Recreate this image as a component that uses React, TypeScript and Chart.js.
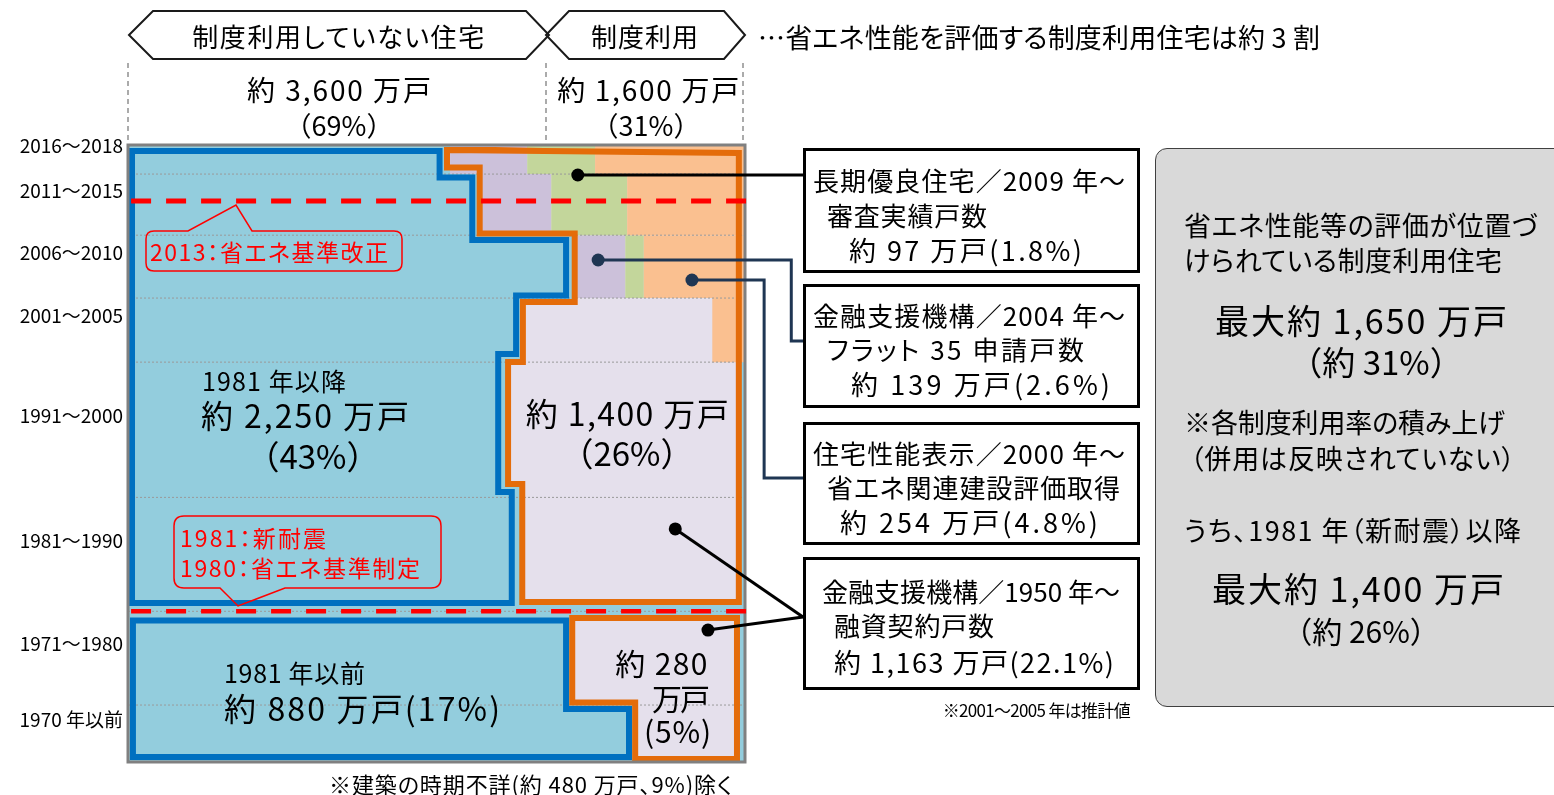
import React, { useEffect, useLayoutEffect, useRef } from 'react';
import { Chart, registerables } from 'chart.js';

Chart.register(...registerables);

// ---------------- data ----------------
// construction periods (rows, newest first)
const periods = ['2016～2018', '2011～2015', '2006～2010', '2001～2005', '1991～2000', '1981～1990', '1971～1980', '1970 年以前'];
// housing stock per period (万戸) = row height
const periodStock = [245, 515, 530, 540, 1140, 960, 790, 480];

// share (% of the period's stock) of each system, rows from newest
const longLifeShare = [12.5, 11.2, 7.8, 0]; // 長期優良住宅
const flat35Share = [11.0, 12.3, 3.0, 0]; // フラット35
const perfShare = [24.3, 19.1, 16.4, 5.3]; // 住宅性能表示

// outlines: [share %, cumulative stock 万戸]
type P = [number, number];
const notUsedAfter1981: P[] = [[0.65, 51], [50.5, 51], [50.5, 274], [55.8, 274], [55.8, 801], [71.0, 801], [71.0, 1268], [62.9, 1268], [62.9, 1761], [60.0, 1761], [60.0, 2924], [62.2, 2924], [62.2, 3860], [0.65, 3860]];
const usedAfter1981: P[] = [[51.7, 42], [99.0, 67], [99.0, 3852], [63.9, 3852], [63.9, 2857], [61.6, 2857], [61.6, 1829], [64.0, 1829], [64.0, 1323], [72.4, 1323], [72.4, 746], [57.0, 746], [57.0, 190], [51.7, 190]];
const notUsedBefore1981: P[] = [[0.8, 4007], [71.0, 4007], [71.0, 4753], [81.2, 4753], [81.2, 5158], [0.8, 5158]];
const usedBefore1981: P[] = [[72.0, 3986], [98.7, 3986], [98.7, 5175], [82.2, 5175], [82.2, 4699], [72.0, 4699]];

// 2013 省エネ基準改正 / 1980-81 新耐震・省エネ基準制定
const standardLines = [472, 3930];

// marker dots and their leader lines (to the callout boxes)
const markerPoints: P[] = [[72.9, 253], [76.2, 969], [91.4, 1138], [88.7, 3236], [94.0, 4088]];
const markerColors = ['#000000', '#1F3653', '#1F3653', '#000000', '#000000'];
const leaderLines: P[][] = [
  [[72.9, 253], [109.4, 253]],
  [[109.4, 1652], [107.5, 1652], [107.5, 969], [76.2, 969]],
  [[109.4, 2807], [103.1, 2807], [103.1, 1138], [91.4, 1138]],
  [[88.7, 3236], [109.4, 3978]],
  [[94.0, 4088], [109.4, 3978]],
];

const C = {
  notUsed: '#93CDDD',
  blue: '#0070C0',
  orange: '#E46C0A',
  lav: '#E5E0EC',
  long: '#CCC1DA',
  flat: '#C3D69B',
  perf: '#FAC090',
  frame: '#808080',
  red: '#FF0000',
};

const FONT = '"Noto Sans CJK JP", "Noto Sans", sans-serif';

const pts = (a: P[]) => a.map(([x, y]) => ({ x, y }));
const closed = (a: P[]) => pts([...a, a[0], a[1]]);

function Txt(props: { x: number; y: number; s: number; a?: 'left' | 'center' | 'right'; c?: string; w?: number; np?: boolean; children: any }) {
  const { x, y, s, a = 'left', c = '#000', w, np, children } = props;
  const r = useRef<HTMLDivElement>(null);
  useLayoutEffect(() => {
    const fit = () => {
      const el = r.current;
      if (!el || !w) return;
      el.style.letterSpacing = '0px';
      const cur = el.getBoundingClientRect().width;
      const n = Math.max(1, (el.textContent || '').length - 1);
      const ls = Math.max(-2, Math.min(6, (w - cur) / n));
      el.style.letterSpacing = `${ls}px`;
    };
    fit();
    const f: any = (document as any).fonts;
    if (f && f.ready) f.ready.then(fit);
  }, [w]);
  const tx = a === 'center' ? '-50%' : a === 'right' ? '-100%' : '0';
  return (
    <div
      ref={r}
      style={{
        position: 'absolute',
        left: x,
        top: y,
        transform: `translate(${tx}, -50%)`,
        fontSize: s,
        color: c,
        whiteSpace: 'pre',
        lineHeight: 1,
        fontFeatureSettings: np ? 'normal' : '"palt"',
      }}
    >
      {children}
    </div>
  );
}

function ChartCanvas() {
  const ref = useRef<HTMLCanvasElement>(null);
  useEffect(() => {
    const rowEdges = [0];
    periodStock.forEach((v) => rowEdges.push(rowEdges[rowEdges.length - 1] + v));
    const total = rowEdges[rowEdges.length - 1];
    const rowCenters = periodStock.map((v, i) => rowEdges[i] + v / 2);

    const datasets: any[] = [];
    const add = (ds: any, order: number) =>
      datasets.push({ pointRadius: 0, fill: false, borderWidth: 0, borderColor: 'rgba(0,0,0,0)', backgroundColor: 'rgba(0,0,0,0)', order, ...ds });

    const frame: P[] = [[0, 0], [100, 0], [100, total], [0, total]];
    add({ data: pts(frame), fill: 'shape', backgroundColor: C.notUsed }, 100);
    add({ data: pts(usedAfter1981), fill: 'shape', backgroundColor: C.lav }, 90);
    add({ data: pts(usedBefore1981), fill: 'shape', backgroundColor: C.lav }, 90);

    for (let i = 0; i < perfShare.length; i++) {
      let right = 100;
      const progs: [number, string][] = [[perfShare[i], C.perf], [flat35Share[i], C.flat], [longLifeShare[i], C.long]];
      for (const [w, col] of progs) {
        if (w > 0) {
          const l = right - w;
          add({ data: pts([[l, rowEdges[i]], [right, rowEdges[i]], [right, rowEdges[i + 1]], [l, rowEdges[i + 1]]]), fill: 'shape', backgroundColor: col }, 80);
          right = l;
        }
      }
    }

    rowEdges.slice(1, -1).forEach((y) =>
      add({ data: pts([[0, y], [100, y]]), borderWidth: 1, borderColor: '#9a9a9a', borderDash: [2, 2] }, 70)
    );

    add({ data: closed(notUsedAfter1981), borderWidth: 6, borderColor: C.blue, borderJoinStyle: 'miter' }, 60);
    add({ data: closed(notUsedBefore1981), borderWidth: 6, borderColor: C.blue, borderJoinStyle: 'miter' }, 60);
    add({ data: closed(usedAfter1981), borderWidth: 6, borderColor: C.orange, borderJoinStyle: 'miter' }, 55);
    add({ data: closed(usedBefore1981), borderWidth: 6, borderColor: C.orange, borderJoinStyle: 'miter' }, 55);

    add({ data: closed(frame), borderWidth: 3, borderColor: C.frame, borderJoinStyle: 'miter', clip: false }, 50);

    standardLines.forEach((y, i) =>
      add({ data: pts([[0.5, y], [101.1, y]]), borderWidth: i === 0 ? 5 : 4.5, borderColor: C.red, borderDash: [20, 15], borderCapStyle: 'butt', clip: false }, 40)
    );

    leaderLines.forEach((l, i) =>
      add({ data: pts(l), borderWidth: 3, borderColor: markerColors[i], borderJoinStyle: 'miter', clip: false }, 30)
    );

    add({ data: pts(markerPoints), showLine: false, pointRadius: 6.5, pointBackgroundColor: markerColors, pointBorderWidth: 0, clip: false }, 10);

    const chart = new Chart(ref.current as HTMLCanvasElement, {
      type: 'line',
      data: { datasets },
      options: {
        animation: false,
        responsive: false,
        devicePixelRatio: 1,
        events: [],
        layout: { padding: { left: 8, top: 145, right: 809, bottom: 33 } },
        plugins: { legend: { display: false }, tooltip: { enabled: false }, title: { display: false } },
        elements: { point: { radius: 0, hoverRadius: 0 }, line: { tension: 0 } },
        scales: {
          x: { type: 'linear', min: 0, max: 100, display: false },
          y: {
            type: 'linear',
            min: 0,
            max: total,
            reverse: true,
            position: 'left',
            grid: { display: false, drawTicks: false },
            border: { display: false },
            afterBuildTicks: (s: any) => {
              s.ticks = rowCenters.map((v) => ({ value: v }));
            },
            afterFit: (s: any) => {
              s.width = 120;
            },
            ticks: {
              autoSkip: false,
              padding: 5,
              labelOffset: -14,
              color: '#000',
              font: { family: FONT, size: 19 },
              callback: (_v: any, i: number) => periods[i],
            },
          },
        },
      } as any,
    });
    return () => chart.destroy();
  }, []);
  return <canvas ref={ref} width={1554} height={795} style={{ position: 'absolute', left: 0, top: 0 }} />;
}

export default function App() {
  const box = (l: number, t: number, r: number, b: number) => (
    <div
      style={{
        position: 'absolute',
        left: l,
        top: t,
        width: r - l,
        height: b - t,
        boxSizing: 'border-box',
        border: '3px solid #000',
        background: '#fff',
      }}
    />
  );
  return (
    <div
      style={{
        position: 'absolute',
        left: 0,
        top: 0,
        width: 1554,
        height: 795,
        overflow: 'hidden',
        background: '#fff',
        fontFamily: FONT,
        color: '#000',
      }}
    >
      <ChartCanvas />
      <svg width={1554} height={795} style={{ position: 'absolute', left: 0, top: 0 }}>
        <polygon points="129,35 153,11 526,11 549,35 526,59 153,59" fill="none" stroke="#1a1a1a" strokeWidth={2} />
        <polygon points="546,35 569,11 724,11 745,35 724,59 569,59" fill="none" stroke="#1a1a1a" strokeWidth={2} />
        {[128, 546, 743].map((x) => (
          <line key={x} x1={x} y1={63} x2={x} y2={145} stroke="#7f7f7f" strokeWidth={1.3} strokeDasharray="5 4" />
        ))}
        <path
          d="M154,231 H188 L236,205 L252,231 H394 Q402,231 402,239 V263 Q402,271 394,271 H154 Q146,271 146,263 V239 Q146,231 154,231 Z"
          fill="none"
          stroke="#FF0000"
          strokeWidth={1.5}
        />
        <path
          d="M184,516 H431 Q441,516 441,526 V578 Q441,588 431,588 H285 L238,606 L220,588 H184 Q174,588 174,578 V526 Q174,516 184,516 Z"
          fill="none"
          stroke="#FF0000"
          strokeWidth={1.5}
        />
      </svg>

      {/* header */}
      <Txt x={339} y={36} s={26} a="center" w={292}>制度利用していない住宅</Txt>
      <Txt x={645} y={36} s={26} a="center" w={107}>制度利用</Txt>
      <Txt x={758} y={36} s={27} w={562}>…省エネ性能を評価する制度利用住宅は約 3 割</Txt>
      <Txt x={340} y={89} s={28} a="center" w={184}>約 3,600 万戸</Txt>
      <Txt x={339} y={124} s={27} a="center" np>（69%）</Txt>
      <Txt x={649} y={89} s={28} a="center" w={182}>約 1,600 万戸</Txt>
      <Txt x={646} y={124} s={27} a="center" np>（31%）</Txt>

      {/* inside chart */}
      <Txt x={202} y={380} s={25} w={144}>1981 年以降</Txt>
      <Txt x={306} y={414} s={32} a="center" w={208}>約 2,250 万戸</Txt>
      <Txt x={313} y={455} s={33} a="center" np>（43%）</Txt>
      <Txt x={628} y={412} s={32} a="center" w={203}>約 1,400 万戸</Txt>
      <Txt x={627} y={452} s={33} a="center" np>（26%）</Txt>
      <Txt x={224} y={672} s={25} w={141}>1981 年以前</Txt>
      <Txt x={224} y={707} s={32} w={276}>約 880 万戸(17%)</Txt>
      <Txt x={662} y={662} s={30} a="center" w={92}>約 280</Txt>
      <Txt x={680} y={697} s={30} a="center" w={50}>万戸</Txt>
      <Txt x={678} y={730} s={30} a="center" w={67}>(5%)</Txt>

      <Txt x={150} y={251} s={23} c="#FF0000" w={238}>2013：省エネ基準改正</Txt>
      <Txt x={180} y={537} s={23} c="#FF0000" w={146}>1981：新耐震</Txt>
      <Txt x={180} y={567} s={23} c="#FF0000" w={240}>1980：省エネ基準制定</Txt>

      <Txt x={531} y={783} s={22} a="center" w={403}>※建築の時期不詳(約 480 万戸、9%)除く</Txt>

      {/* callout boxes */}
      {box(803, 148, 1140, 273)}
      {box(803, 284, 1140, 408)}
      {box(803, 422, 1140, 545)}
      {box(803, 557, 1140, 690)}
      <Txt x={813} y={180} s={26} w={312}>長期優良住宅／2009 年～</Txt>
      <Txt x={827} y={215} s={26} w={160}>審査実績戸数</Txt>
      <Txt x={849} y={249} s={27} w={233}>約 97 万戸(1.8%)</Txt>
      <Txt x={813} y={315} s={26} w={312}>金融支援機構／2004 年～</Txt>
      <Txt x={827} y={349} s={26} w={257}>フラット 35 申請戸数</Txt>
      <Txt x={851} y={383} s={27} w={259}>約 139 万戸(2.6%)</Txt>
      <Txt x={813} y={453} s={26} w={312}>住宅性能表示／2000 年～</Txt>
      <Txt x={827} y={487} s={26} w={293}>省エネ関連建設評価取得</Txt>
      <Txt x={840} y={521} s={27} w={258}>約 254 万戸(4.8%)</Txt>
      <Txt x={822} y={591} s={26} w={298}>金融支援機構／1950 年～</Txt>
      <Txt x={834} y={625} s={26} w={160}>融資契約戸数</Txt>
      <Txt x={834} y={661} s={27} w={280}>約 1,163 万戸(22.1%)</Txt>
      <Txt x={1130} y={709} s={17} a="right" w={188}>※2001～2005 年は推計値</Txt>

      {/* summary box */}
      <div
        style={{
          position: 'absolute',
          left: 1155,
          top: 148,
          width: 420,
          height: 559,
          boxSizing: 'border-box',
          border: '1.5px solid #404040',
          borderRadius: 12,
          background: '#D9D9D9',
        }}
      />
      <Txt x={1184} y={224} s={27} w={354}>省エネ性能等の評価が位置づ</Txt>
      <Txt x={1184} y={259} s={27} w={318}>けられている制度利用住宅</Txt>
      <Txt x={1362} y={320} s={34} a="center" w={292}>最大約 1,650 万戸</Txt>
      <Txt x={1376} y={361} s={33} a="center" np>（約 31%）</Txt>
      <Txt x={1184} y={421} s={27} w={321}>※各制度利用率の積み上げ</Txt>
      <Txt x={1190} y={457} s={27} w={325}>（併用は反映されていない）</Txt>
      <Txt x={1184} y={529} s={27} w={337}>うち、1981 年（新耐震）以降</Txt>
      <Txt x={1359} y={588} s={34} a="center" w={292}>最大約 1,400 万戸</Txt>
      <Txt x={1361} y={630} s={30} a="center" np>（約 26%）</Txt>
    </div>
  );
}
